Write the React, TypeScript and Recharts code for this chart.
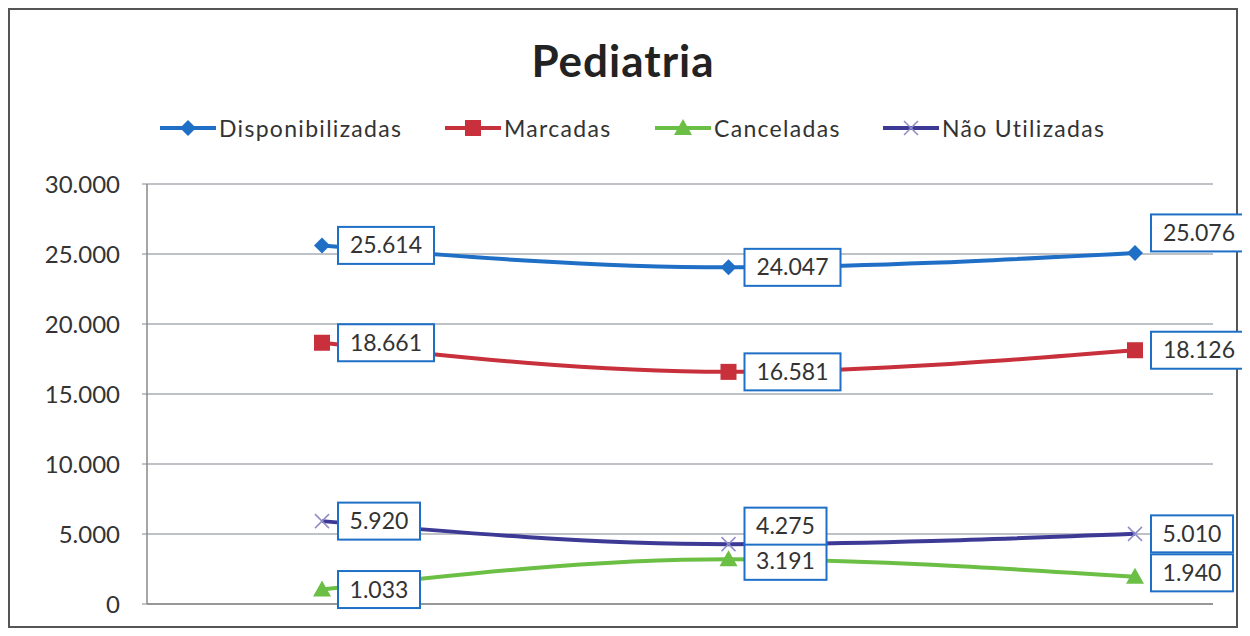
import React from 'react';
import { LineChart, Line, XAxis, YAxis, CartesianGrid, LabelList } from 'recharts';

// periods (no labels shown on the original x axis)
const categories = ['1º', '2º', '3º'];
const disponibilizadas = [25614, 24047, 25076];
const marcadas = [18661, 16581, 18126];
const canceladas = [1033, 3191, 1940];
const naoUtilizadas = [5920, 4275, 5010];
const yTicks = [0, 5000, 10000, 15000, 20000, 25000, 30000];

const data = categories.map((c, i) => ({
  periodo: c,
  disponibilizadas: disponibilizadas[i],
  marcadas: marcadas[i],
  canceladas: canceladas[i],
  naoUtilizadas: naoUtilizadas[i],
}));

const FONT = 'Lato, "Open Sans", sans-serif';
const BLUE = '#1f6fc6';
const RED = '#c8303c';
const GREEN = '#6cbf45';
const PURPLE = '#3d3a96';

const fmt = (v: number) => String(v).replace(/\B(?=(\d{3})+(?!\d))/g, '.');

const Marker = ({ kind, cx, cy, color }: any) => {
  if (cx == null || cy == null) return null;
  if (kind === 'diamond')
    return <path d={`M${cx},${cy - 8} L${cx + 8},${cy} L${cx},${cy + 8} L${cx - 8},${cy} Z`} fill={color} />;
  if (kind === 'square') return <rect x={cx - 8} y={cy - 8} width={16} height={16} fill={color} />;
  if (kind === 'triangle')
    return <path d={`M${cx},${cy - 9} L${cx + 9},${cy + 7} L${cx - 9},${cy + 7} Z`} fill={color} />;
  return (
    <path
      d={`M${cx - 7},${cy - 7} L${cx + 7},${cy + 7} M${cx + 7},${cy - 7} L${cx - 7},${cy + 7}`}
      stroke={color}
      strokeWidth={1.5}
      fill="none"
    />
  );
};

// vertical nudges so overlapping boxes sit like in the original
const boxLabel = (shift: number[]) => (props: any) => {
  const { x, y, value, index } = props;
  const txt = fmt(value);
  const w = txt.length * 14 + 12;
  const h = 37;
  const bx = x + 16;
  const by = y + (shift[index] || 0) - h / 2;
  return (
    <g>
      <rect x={bx} y={by} width={w} height={h} fill="#fff" stroke={BLUE} strokeWidth={2} />
      <text x={bx + w / 2} y={by + h / 2 + 8} textAnchor="middle" fontSize={23} fontFamily={FONT} fill="#333">
        {txt}
      </text>
    </g>
  );
};

const legendItems = [
  { name: 'Disponibilizadas', color: BLUE, kind: 'diamond', left: 150 },
  { name: 'Marcadas', color: RED, kind: 'square', left: 435 },
  { name: 'Canceladas', color: GREEN, kind: 'triangle', left: 645 },
  { name: 'Não Utilizadas', color: PURPLE, kind: 'x', left: 873 },
];

export default function App() {
  return (
    <div
      style={{
        position: 'relative',
        width: 1226,
        height: 616,
        border: '2px solid #555',
        background: '#fff',
        fontFamily: FONT,
      }}
    >
      <style>{'.recharts-surface{overflow:visible}'}</style>
      <div
        style={{
          position: 'absolute',
          top: 24,
          left: 0,
          width: '100%',
          textAlign: 'center',
          fontSize: 44,
          fontWeight: 'bold',
          letterSpacing: 1,
          color: '#222',
        }}
      >
        Pediatria
      </div>
      {legendItems.map((it) => (
        <span
          key={it.name}
          style={{
            position: 'absolute',
            top: 104,
            left: it.left,
            display: 'flex',
            alignItems: 'center',
            fontSize: 23,
            letterSpacing: 1.3,
            color: '#333',
            whiteSpace: 'nowrap',
          }}
        >
          <svg width={56} height={20} style={{ marginRight: 3 }}>
            <line x1={0} y1={10} x2={56} y2={10} stroke={it.color} strokeWidth={4} />
            <Marker kind={it.kind} cx={28} cy={10} color={it.kind === 'x' ? '#8f8cc8' : it.color} />
          </svg>
          {it.name}
        </span>
      ))}
      <LineChart
        width={1226}
        height={616}
        data={data}
        margin={{ top: 174, right: 23, bottom: 21, left: 10 }}
        style={{ overflow: 'visible' }}
      >
        <CartesianGrid vertical={false} stroke="#a8adb3" strokeWidth={1.5} />
        <XAxis
          dataKey="periodo"
          tick={false}
          height={1}
          padding={{ left: 175, right: 78 }}
          axisLine={{ stroke: '#888', strokeWidth: 1.5 }}
          tickLine={false}
        />
        <YAxis
          width={127}
          domain={[0, 30000]}
          ticks={yTicks}
          tickFormatter={fmt}
          interval={0}
          tickSize={5}
          tickMargin={22}
          axisLine={{ stroke: '#888', strokeWidth: 1.5 }}
          tickLine={{ stroke: '#888' }}
          tick={{ fontSize: 24, fill: '#333', fontFamily: FONT }}
        />
        <Line
          type="monotone"
          dataKey="disponibilizadas"
          stroke={BLUE}
          strokeWidth={4}
          isAnimationActive={false}
          dot={(p: any) => <Marker key={p.index} kind="diamond" cx={p.cx} cy={p.cy} color={BLUE} />}
        >
          <LabelList dataKey="disponibilizadas" content={boxLabel([0, 0, -20])} />
        </Line>
        <Line
          type="monotone"
          dataKey="marcadas"
          stroke={RED}
          strokeWidth={4}
          isAnimationActive={false}
          dot={(p: any) => <Marker key={p.index} kind="square" cx={p.cx} cy={p.cy} color={RED} />}
        >
          <LabelList dataKey="marcadas" content={boxLabel([0, 0, 0])} />
        </Line>
        <Line
          type="monotone"
          dataKey="canceladas"
          stroke={GREEN}
          strokeWidth={4}
          isAnimationActive={false}
          dot={(p: any) => <Marker key={p.index} kind="triangle" cx={p.cx} cy={p.cy} color={GREEN} />}
        >
          <LabelList dataKey="canceladas" content={boxLabel([0, 2, -4])} />
        </Line>
        <Line
          type="monotone"
          dataKey="naoUtilizadas"
          stroke={PURPLE}
          strokeWidth={4}
          isAnimationActive={false}
          dot={(p: any) => <Marker key={p.index} kind="x" cx={p.cx} cy={p.cy} color="#8f8cc8" />}
        >
          <LabelList dataKey="naoUtilizadas" content={boxLabel([0, -18, 0])} />
        </Line>
      </LineChart>
    </div>
  );
}
